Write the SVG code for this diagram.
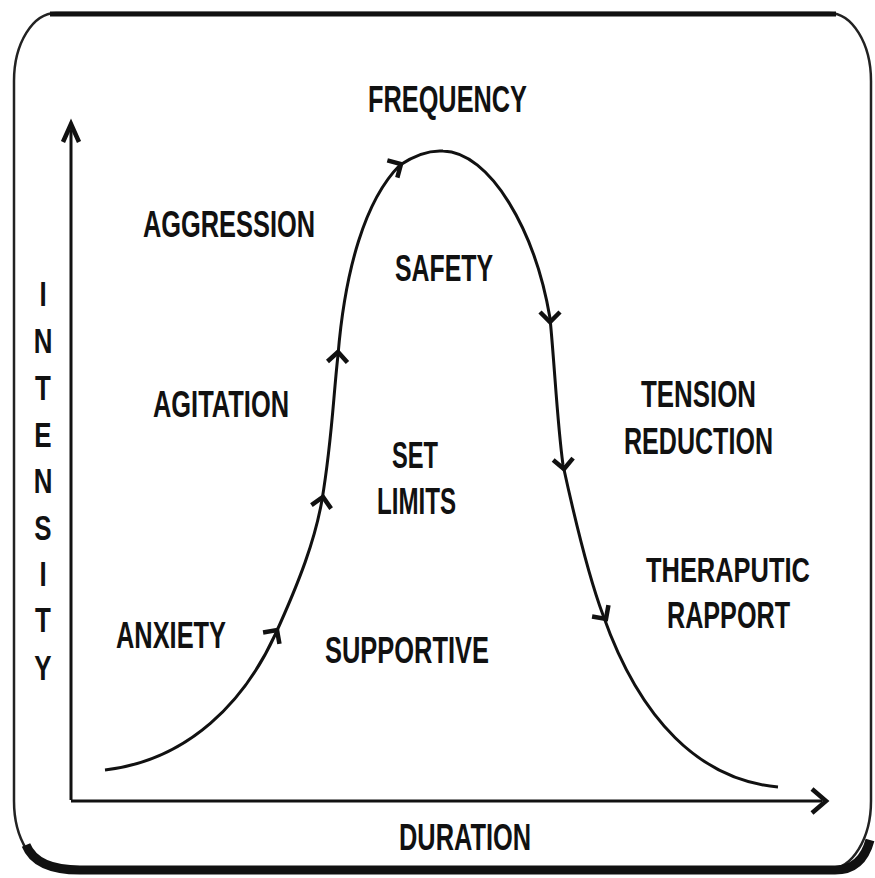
<svg xmlns="http://www.w3.org/2000/svg" width="875" height="878" viewBox="0 0 875 878">
<defs>
<style>
.lbl{font-family:"Liberation Sans",Arial,sans-serif;font-weight:bold;font-size:36px;fill:#111}
.ax{fill:none;stroke:#111;stroke-width:3}
.cv{fill:none;stroke:#111;stroke-width:3}
.chev{fill:none;stroke:#111;stroke-width:4.5;stroke-linejoin:miter}
</style>
<path id="chev" d="M-10,10 L0,0 L10,10" class="chev"/>
</defs>
<rect width="875" height="878" fill="#fff"/>
<g id="frame">
<rect x="14" y="13" width="857" height="856" rx="42" ry="68" fill="none" stroke="#222" stroke-width="2.5"/>
<path d="M50,14 L836,14" stroke="#111" stroke-width="5" fill="none"/>
<path d="M26,845 Q36,870 80,870 L835,870 Q862,870 870,840" stroke="#111" stroke-width="9" fill="none"/>
</g>
<g id="connectors">
<path id="y-axis" class="ax" d="M71,800 L71,130"/>
<path d="M63,142 L71,124 L79,142" class="chev"/>
<path id="x-axis" class="ax" d="M71,801 L822,801"/>
<path d="M812,789 L826,801 L812,813" class="chev"/>
<path id="curve" class="cv" d="M105,770 C190,760 245,700 275,635 C300,580 315,540 322,500 C332,440 333,400 338,355 C345,270 365,200 400,165 C415,155 428,150 443,151 C490,152 535,230 550,318 C555,370 557,420 563,465 C575,520 588,575 603,615 C640,720 700,780 778,787"/>
<use href="#chev" transform="translate(277,630) rotate(35)"/>
<use href="#chev" transform="translate(323,497) rotate(10)"/>
<use href="#chev" transform="translate(338,352) rotate(3)"/>
<use href="#chev" transform="translate(401,164) rotate(60)"/>
<use href="#chev" transform="translate(550,322) rotate(180)"/>
<use href="#chev" transform="translate(564,469) rotate(175)"/>
<use href="#chev" transform="translate(606,619) rotate(145)"/>
</g>
<g id="frequency"><text class="lbl" x="368" y="112" textLength="159" lengthAdjust="spacingAndGlyphs">FREQUENCY</text></g>
<g id="aggression"><text class="lbl" x="143" y="237" textLength="172" lengthAdjust="spacingAndGlyphs">AGGRESSION</text></g>
<g id="safety"><text class="lbl" x="395" y="281" textLength="98" lengthAdjust="spacingAndGlyphs">SAFETY</text></g>
<g id="agitation"><text class="lbl" x="153" y="417" textLength="136" lengthAdjust="spacingAndGlyphs">AGITATION</text></g>
<g id="tension-reduction">
<text class="lbl" x="641" y="407" textLength="115" lengthAdjust="spacingAndGlyphs">TENSION</text>
<text class="lbl" x="624" y="454" textLength="149" lengthAdjust="spacingAndGlyphs">REDUCTION</text>
</g>
<g id="set-limits">
<text class="lbl" x="392" y="468" textLength="46" lengthAdjust="spacingAndGlyphs">SET</text>
<text class="lbl" x="377" y="514" textLength="79" lengthAdjust="spacingAndGlyphs">LIMITS</text>
</g>
<g id="theraputic-rapport">
<text class="lbl" transform="translate(646,582) scale(0.707,1)">THERAPUTIC</text>
<text class="lbl" x="667" y="628" textLength="123" lengthAdjust="spacingAndGlyphs">RAPPORT</text>
</g>
<g id="anxiety"><text class="lbl" x="116" y="648" textLength="110" lengthAdjust="spacingAndGlyphs">ANXIETY</text></g>
<g id="supportive"><text class="lbl" x="325" y="663" textLength="164" lengthAdjust="spacingAndGlyphs">SUPPORTIVE</text></g>
<g id="duration"><text class="lbl" x="399" y="850" textLength="132" lengthAdjust="spacingAndGlyphs">DURATION</text></g>
<g id="intensity" transform="translate(43,0) scale(0.72,1)">
<text class="lbl" x="0" y="306" text-anchor="middle">I</text>
<text class="lbl" x="0" y="353" text-anchor="middle">N</text>
<text class="lbl" x="0" y="400" text-anchor="middle">T</text>
<text class="lbl" x="0" y="447" text-anchor="middle">E</text>
<text class="lbl" x="0" y="493" text-anchor="middle">N</text>
<text class="lbl" x="0" y="540" text-anchor="middle">S</text>
<text class="lbl" x="0" y="586" text-anchor="middle">I</text>
<text class="lbl" x="0" y="632" text-anchor="middle">T</text>
<text class="lbl" x="0" y="680" text-anchor="middle">Y</text>
</g>
</svg>
